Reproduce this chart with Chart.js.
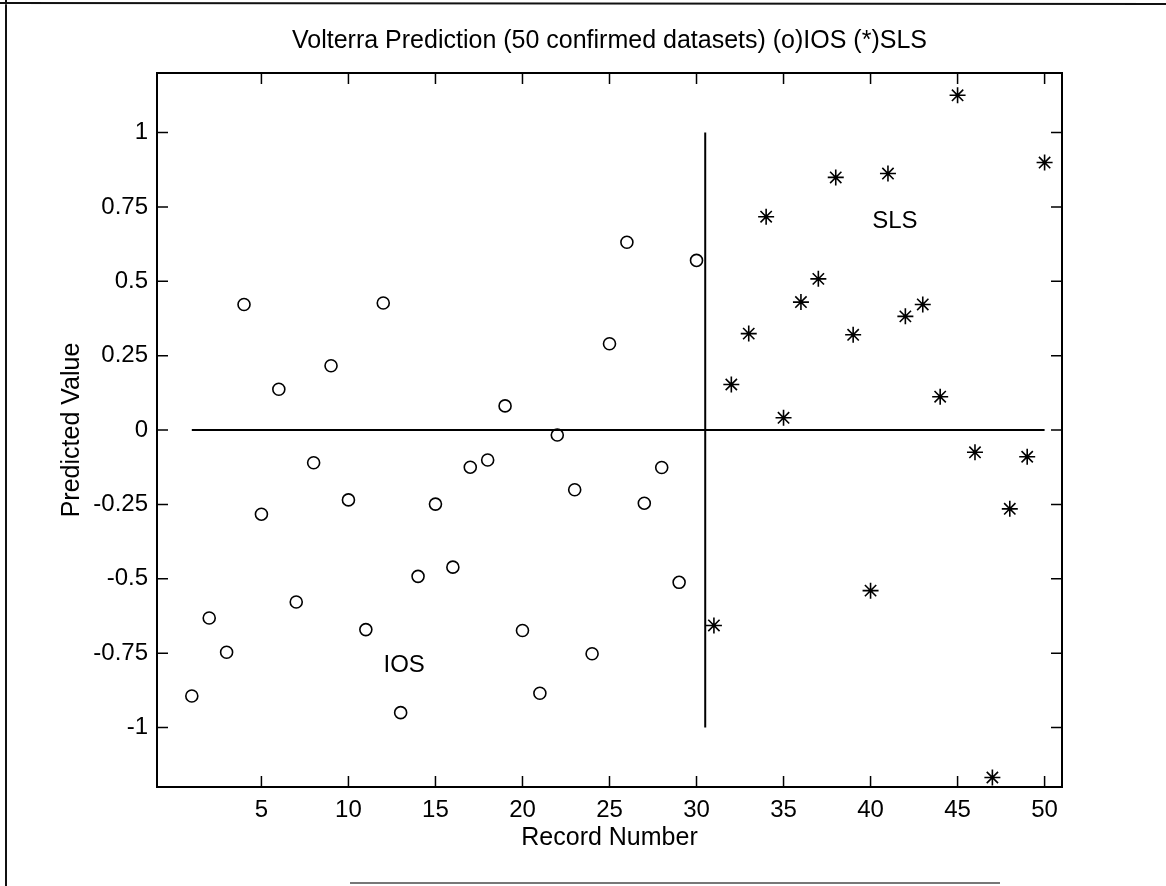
<!DOCTYPE html>
<html>
<head>
<meta charset="utf-8">
<title>Volterra Prediction</title>
<script src="https://cdn.jsdelivr.net/npm/chart.js@4.4.1/dist/chart.umd.min.js"></script>
<style>
  html, body { margin: 0; padding: 0; background: #fff; }
  #wrap { width: 1166px; height: 886px; }
</style>
</head>
<body>
<div id="wrap"><canvas id="chart" width="1166" height="886"></canvas></div>
<script>
// record numbers and predicted values
const iosRecords = [1, 2, 3, 4, 5, 6, 7, 8, 9, 10, 11, 12, 13, 14, 15, 16, 17, 18, 19, 20, 21, 22, 23, 24, 25, 26, 27, 28, 29, 30];
const iosValues  = [-0.894, -0.632, -0.747, 0.422, -0.283, 0.137, -0.578, -0.110, 0.216, -0.235,
                    -0.671, 0.427, -0.950, -0.492, -0.249, -0.461, -0.125, -0.101, 0.081, -0.674,
                    -0.885, -0.017, -0.201, -0.752, 0.290, 0.631, -0.246, -0.126, -0.512, 0.570];
const slsRecords = [31, 32, 33, 34, 35, 36, 37, 38, 39, 40, 41, 42, 43, 44, 45, 46, 47, 48, 49, 50];
const slsValues  = [-0.657, 0.153, 0.324, 0.717, 0.041, 0.430, 0.508, 0.849, 0.320, -0.540,
                    0.862, 0.382, 0.422, 0.112, 1.125, -0.075, -1.168, -0.265, -0.090, 0.899];

const xTicks = [5, 10, 15, 20, 25, 30, 35, 40, 45, 50];
const yTicks = [-1, -0.75, -0.5, -0.25, 0, 0.25, 0.5, 0.75, 1];

// reference lines
const zeroLineX  = [1, 50];
const zeroLineY  = [0, 0];
const splitLineX = [30.5, 30.5];
const splitLineY = [-1, 1];

// region labels (data coordinates)
const regionNames = ['IOS', 'SLS'];
const regionX = [13.2, 41.4];
const regionY = [-0.79, 0.70];

const FONT = "'Liberation Sans', Arial, Helvetica, sans-serif";

const pts = (xs, ys) => xs.map((x, i) => ({ x: x, y: ys[i] }));

// figure border, inward ticks on all four sides, region text
const frame = {
  id: 'frame',
  beforeDraw(chart) {
    const c = chart.ctx;
    c.save();
    c.strokeStyle = '#111';
    c.lineWidth = 2;
    c.beginPath();
    c.moveTo(0, 3); c.lineTo(1166, 4);
    c.moveTo(6, 0); c.lineTo(6, 886);
    c.stroke();
    c.strokeStyle = '#777';
    c.lineWidth = 2;
    c.beginPath();
    c.moveTo(350, 883); c.lineTo(1000, 883);
    c.stroke();
    c.restore();
  },
  afterDraw(chart) {
    const c = chart.ctx;
    const a = chart.chartArea;
    const sx = chart.scales.x, sy = chart.scales.y;
    const len = 11;
    c.save();
    c.strokeStyle = '#000';
    c.lineWidth = 2;
    c.strokeRect(a.left, a.top, a.right - a.left, a.bottom - a.top);
    c.lineWidth = 1.5;
    c.beginPath();
    sx.ticks.forEach(t => {
      const px = sx.getPixelForValue(t.value);
      c.moveTo(px, a.bottom); c.lineTo(px, a.bottom - len);
      c.moveTo(px, a.top); c.lineTo(px, a.top + len);
    });
    sy.ticks.forEach(t => {
      const py = sy.getPixelForValue(t.value);
      c.moveTo(a.left, py); c.lineTo(a.left + len, py);
      c.moveTo(a.right, py); c.lineTo(a.right - len, py);
    });
    c.stroke();
    c.fillStyle = '#000';
    c.font = '24px ' + FONT;
    c.textAlign = 'center';
    c.textBaseline = 'middle';
    regionNames.forEach((n, i) => {
      c.fillText(n, sx.getPixelForValue(regionX[i]), sy.getPixelForValue(regionY[i]));
    });
    c.restore();
  }
};

new Chart(document.getElementById('chart'), {
  type: 'scatter',
  data: {
    datasets: [
      {
        label: 'IOS',
        data: pts(iosRecords, iosValues),
        pointStyle: 'circle',
        pointRadius: 6,
        borderWidth: 1.6,
        borderColor: '#000',
        backgroundColor: 'rgba(0,0,0,0)'
      },
      {
        label: 'SLS',
        data: pts(slsRecords, slsValues),
        pointStyle: 'star',
        pointRadius: 8,
        borderWidth: 1.6,
        borderColor: '#000',
        backgroundColor: '#000'
      },
      {
        label: 'zero',
        type: 'line',
        data: pts(zeroLineX, zeroLineY),
        borderColor: '#000',
        borderWidth: 2,
        pointRadius: 0,
        showLine: true
      },
      {
        label: 'split',
        type: 'line',
        data: pts(splitLineX, splitLineY),
        borderColor: '#000',
        borderWidth: 2,
        pointRadius: 0,
        showLine: true
      }
    ]
  },
  options: {
    responsive: false,
    animation: false,
    devicePixelRatio: 1,
    layout: { padding: { left: 0, right: 104, top: 0, bottom: 0 } },
    plugins: {
      legend: { display: false },
      tooltip: { enabled: false },
      title: {
        display: true,
        fullSize: false,
        text: 'Volterra Prediction (50 confirmed datasets) (o)IOS (*)SLS',
        color: '#000',
        font: { family: FONT, size: 25, weight: 'normal' },
        padding: { top: 26, bottom: 17 }
      }
    },
    scales: {
      x: {
        type: 'linear',
        min: -1,
        max: 51,
        afterBuildTicks: s => { s.ticks = xTicks.map(v => ({ value: v })); },
        afterFit: s => { s.height = 99; },
        grid: { display: false, drawTicks: false },
        border: { display: false },
        ticks: { color: '#000', padding: 9, font: { family: FONT, size: 24 } },
        title: {
          display: true,
          text: 'Record Number',
          color: '#000',
          font: { family: FONT, size: 25 },
          padding: { top: 0, bottom: 33 }
        }
      },
      y: {
        type: 'linear',
        min: -1.2,
        max: 1.2,
        afterBuildTicks: s => { s.ticks = yTicks.map(v => ({ value: v })); },
        afterFit: s => { s.width = 157; },
        grid: { display: false, drawTicks: false },
        border: { display: false },
        ticks: {
          color: '#000',
          padding: 9,
          font: { family: FONT, size: 24 },
          callback: v => String(v)
        },
        title: {
          display: true,
          text: 'Predicted Value',
          color: '#000',
          font: { family: FONT, size: 25 },
          padding: { top: 57, bottom: 0 }
        }
      }
    }
  },
  plugins: [frame]
});
</script>
</body>
</html>
